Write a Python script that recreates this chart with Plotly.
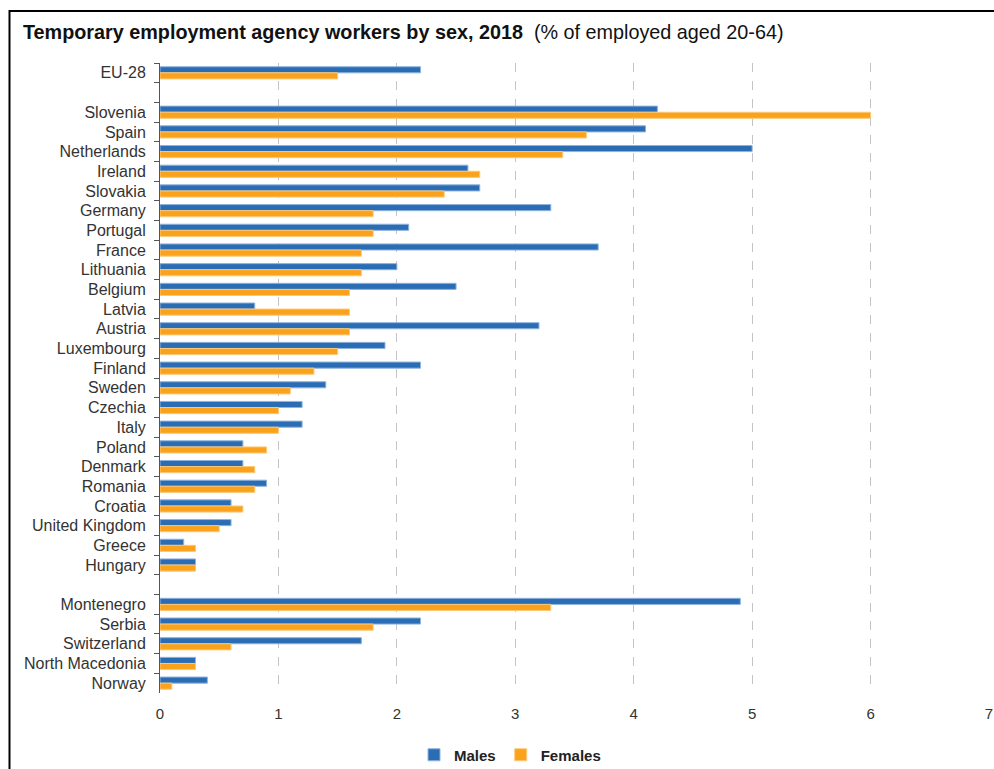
import plotly.graph_objects as go

# Country groups (blank rows separate EU aggregate, member states, other countries)
eu_total = ["EU-28"]
member_states = ["Slovenia", "Spain", "Netherlands", "Ireland", "Slovakia", "Germany",
                 "Portugal", "France", "Lithuania", "Belgium", "Latvia", "Austria",
                 "Luxembourg", "Finland", "Sweden", "Czechia", "Italy", "Poland",
                 "Denmark", "Romania", "Croatia", "United Kingdom", "Greece", "Hungary"]
other_countries = ["Montenegro", "Serbia", "Switzerland", "North Macedonia", "Norway"]

males_eu = [2.2]
females_eu = [1.5]
males_ms = [4.2, 4.1, 5.0, 2.6, 2.7, 3.3, 2.1, 3.7, 2.0, 2.5, 0.8, 3.2,
            1.9, 2.2, 1.4, 1.2, 1.2, 0.7, 0.7, 0.9, 0.6, 0.6, 0.2, 0.3]
females_ms = [6.0, 3.6, 3.4, 2.7, 2.4, 1.8, 1.8, 1.7, 1.7, 1.6, 1.6, 1.6,
              1.5, 1.3, 1.1, 1.0, 1.0, 0.9, 0.8, 0.8, 0.7, 0.5, 0.3, 0.3]
males_other = [4.9, 2.2, 1.7, 0.3, 0.4]
females_other = [3.3, 1.8, 0.6, 0.3, 0.1]

x_ticks = [0, 1, 2, 3, 4, 5, 6, 7]

gap1, gap2 = " ", "  "
categories = eu_total + [gap1] + member_states + [gap2] + other_countries
males = males_eu + [None] + males_ms + [None] + males_other
females = females_eu + [None] + females_ms + [None] + females_other

BLUE = "#2a6db5"
ORANGE = "#faa21b"
FONT = "Liberation Sans, Arial, sans-serif"

fig = go.Figure()
fig.add_trace(go.Bar(
    y=categories, x=males, orientation="h", name="Males",
    marker=dict(color=BLUE, line=dict(color="#8fb3dc", width=1)),
))
fig.add_trace(go.Bar(
    y=categories, x=females, orientation="h", name="Females",
    marker=dict(color=ORANGE, line=dict(color="#fcc878", width=1)),
))

W, H = 994, 769
ML, MR, MT, MB = 160, 5, 63, 76
pw, ph = W - ML - MR, H - MT - MB


def px_x(px):
    return (px - ML) / pw


def px_y(py):
    return (H - MB - py) / ph


fig.update_layout(
    width=W, height=H,
    margin=dict(l=ML, r=MR, t=MT, b=MB, autoexpand=False),
    paper_bgcolor="white", plot_bgcolor="white",
    font=dict(family=FONT, color="#333333"),
    barmode="group", bargap=0.38, bargroupgap=0,
    showlegend=True,
    legend=dict(
        orientation="h", x=px_x(510), xanchor="center", y=px_y(755), yanchor="middle",
        font=dict(size=15, color="#222222", weight="bold"),
        itemwidth=30, tracegroupgap=0,
    ),
    xaxis=dict(
        range=[0, 7], tickvals=x_ticks, showgrid=True, gridcolor="#c4c4c4",
        griddash="dash", gridwidth=1, zeroline=False, showline=False,
        tickfont=dict(size=15, color="#333333"), ticks="", ticklabelstandoff=10,
        fixedrange=True,
    ),
    yaxis=dict(
        type="category", categoryorder="array", categoryarray=categories,
        autorange="reversed", showline=True, linecolor="#555555", linewidth=1,
        tickmode="linear", tick0=0, dtick=1,
        ticks="outside", tickson="boundaries", ticklen=5, tickcolor="#555555",
        tickfont=dict(size=16, color="#333333"), ticklabelstandoff=10,
        showgrid=False,
    ),
    annotations=[dict(
        xref="paper", yref="paper", x=px_x(21), y=px_y(32),
        xanchor="left", yanchor="middle", showarrow=False,
        text="<b>Temporary employment agency workers by sex, 2018</b>  (% of employed aged 20-64)",
        font=dict(size=19.8, color="#111111", family=FONT),
    )],
    shapes=[
        dict(type="line", xref="paper", yref="paper", x0=px_x(9), x1=px_x(994),
             y0=px_y(11), y1=px_y(11), line=dict(color="black", width=2)),
        dict(type="line", xref="paper", yref="paper", x0=px_x(9.5), x1=px_x(9.5),
             y0=px_y(10), y1=px_y(769), line=dict(color="black", width=2)),
    ],
)

fig.write_html("out.html")
